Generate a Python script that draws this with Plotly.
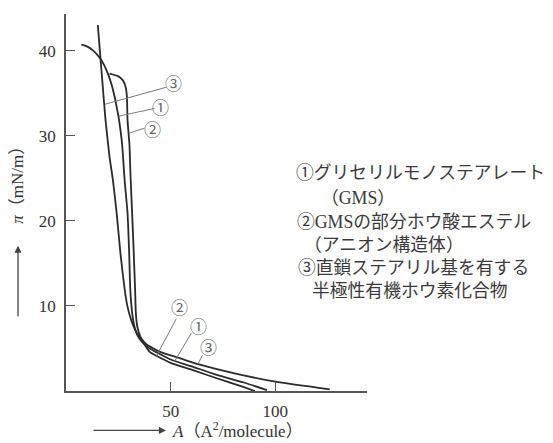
import plotly.graph_objects as go

# ---- data (A in Å^2/molecule, pi in mN/m) ----
c1_A = [7.3, 10.0, 13.0, 16.0, 18.2, 20.0, 21.8, 23.2, 24.5, 25.5, 26.8, 28.0, 29.4, 30.2, 30.7, 31.6, 32.5, 34.0, 36.5, 40.0, 50.0, 60.0, 72.0, 85.0, 96.0]
c1_P = [40.7, 40.5, 40.0, 39.2, 38.3, 37.3, 36.0, 34.6, 33.0, 31.6, 29.0, 24.8, 20.9, 16.0, 12.0, 9.2, 7.8, 6.6, 5.7, 5.0, 3.7, 2.9, 1.9, 1.0, 0.1]

c2_A = [20.8, 24.8, 27.2, 28.5, 29.1, 29.4, 30.3, 30.9, 31.6, 32.4, 33.0, 33.4, 34.2, 35.5, 37.5, 40.0, 50.0, 60.0, 72.0, 85.0, 90.2]
c2_P = [37.3, 37.0, 36.5, 35.7, 34.6, 31.8, 29.0, 24.8, 20.9, 16.0, 12.0, 9.0, 7.4, 6.4, 5.5, 4.6, 3.3, 2.5, 1.5, 0.45, 0.0]

c3_A = [15.2, 17.0, 18.9, 20.8, 22.4, 24.2, 26.0, 28.0, 29.3, 31.2, 33.9, 38.4, 45.0, 55.0, 64.0, 80.0, 100.0, 126.0]
c3_P = [43.0, 37.5, 31.8, 27.5, 24.8, 20.9, 16.2, 12.0, 10.0, 8.3, 6.8, 5.5, 4.6, 3.8, 3.1, 2.1, 1.1, 0.2]

x_ticks = [50, 100]
y_ticks = [10, 20, 30, 40]

legend_lines = [
    "①グリセリルモノステアレート",
    "（GMS）",
    "②GMSの部分ホウ酸エステル",
    "（アニオン構造体）",
    "③直鎖ステアリル基を有する",
    "半極性有機ホウ素化合物",
]

# circled labels: (text, A, pi) and leader lines (A0, P0, A1, P1)
marks = [("③", 51.5, 36.2), ("①", 45.2, 33.4), ("②", 41.5, 30.9),
         ("②", 54.0, 9.9), ("①", 63.5, 7.7), ("③", 68.3, 5.25)]
leaders = [(18.7, 33.7, 48.0, 35.7), (25.2, 32.3, 42.3, 33.2), (30.2, 30.3, 37.6, 30.9),
           (43.2, 4.1, 52.7, 8.5), (51.9, 3.5, 59.9, 6.8), (63.0, 3.15, 65.2, 4.2)]

CJK = "'Noto Sans CJK JP'"
SERIF = "'Liberation Serif', 'Noto Sans CJK JP', serif"
LINE = "#2b2b2b"
GRAY = "#7a7a7a"

fig = go.Figure()
for a, p in [(c1_A, c1_P), (c2_A, c2_P), (c3_A, c3_P)]:
    fig.add_trace(go.Scatter(x=a, y=p, mode="lines",
                             line=dict(color=LINE, width=1.8, shape="spline", smoothing=0.5),
                             showlegend=False, hoverinfo="skip"))

for a0, p0, a1, p1 in leaders:
    fig.add_shape(type="line", x0=a0, y0=p0, x1=a1, y1=p1, xref="x", yref="y",
                  line=dict(color=GRAY, width=1))

annotations = []
for t, a, p in marks:
    annotations.append(dict(x=a, y=p, xref="x", yref="y", text=t, showarrow=False,
                            xanchor="center", yanchor="middle",
                            font=dict(family=CJK, size=17, color="#666")))

# the page body has an 8px margin: the figure is placed at (8, 8)
OFF = 8
W0, PW = 66.0, 301.0
Y0, PH = 391.5, 377.5
def px(x):
    return (x - W0) / PW
def py(y):
    return (Y0 - y) / PH

leg_pos = [(294, 173), (319, 198), (295, 222), (302, 245), (296, 268), (310, 291)]
for txt, (lx, ly) in zip(legend_lines, leg_pos):
    annotations.append(dict(x=px(lx), y=py(ly), xref="paper", yref="paper", text=txt,
                            xanchor="left", yanchor="middle", showarrow=False,
                            font=dict(family=SERIF, size=17.8, color="#3a3a3a")))

# axis titles
annotations.append(dict(x=px(18), y=py(181), xref="paper", yref="paper",
                        text="<i>π</i>（mN/m）", textangle=-90, showarrow=False,
                        xanchor="center", yanchor="middle",
                        font=dict(family=SERIF, size=17, color="#333")))
annotations.append(dict(x=px(18), y=py(246), xref="paper", yref="paper", text="",
                        showarrow=True, ax=0, ay=72, arrowhead=2, arrowsize=1.1,
                        arrowwidth=1.3, arrowcolor="#444"))
annotations.append(dict(x=px(166), y=py(431), xref="paper", yref="paper", text="",
                        showarrow=True, ax=-74, ay=0, arrowhead=2, arrowsize=1.1,
                        arrowwidth=1.3, arrowcolor="#444"))
annotations.append(dict(x=px(170), y=py(431), xref="paper", yref="paper",
                        text="<i>A</i>（A<sup>2</sup>/molecule）", xanchor="left",
                        yanchor="middle",
                        showarrow=False, font=dict(family=SERIF, size=17, color="#333")))

fig.update_layout(
    width=553 - OFF, height=443 - OFF,
    margin=dict(l=66 - OFF, r=186, t=14 - OFF, b=51.5, pad=0),
    paper_bgcolor="white", plot_bgcolor="white",
    annotations=annotations,
    xaxis=dict(range=[0, 143.8], tickvals=x_ticks, ticks="inside", ticklen=9,
               tickcolor="#555", tickwidth=1.2, showline=True, linecolor="#555",
               linewidth=1.5, showgrid=False, zeroline=False, ticklabelstandoff=4,
               tickfont=dict(family=SERIF, size=17, color="#333")),
    yaxis=dict(range=[0, 44.3], tickvals=y_ticks, ticks="inside", ticklen=9,
               tickcolor="#555", tickwidth=1.2, showline=True, linecolor="#555",
               linewidth=1.5, showgrid=False, zeroline=False, ticklabelstandoff=5,
               tickfont=dict(family=SERIF, size=17, color="#333")),
)

fig.write_html("out.html")
